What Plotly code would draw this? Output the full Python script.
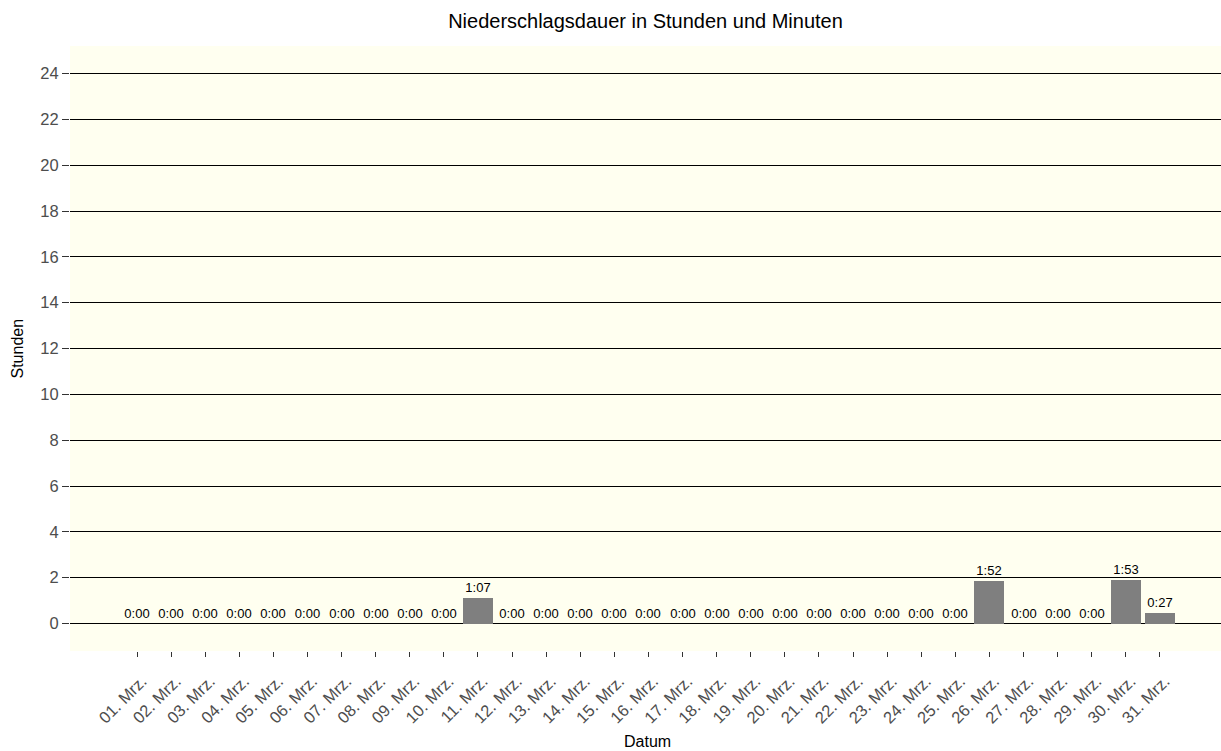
import plotly.graph_objects as go

days = list(range(1, 32))
day_labels = [f"{d:02d}. Mrz." for d in days]
minutes = [0, 0, 0, 0, 0, 0, 0, 0, 0, 0, 67, 0, 0, 0, 0, 0, 0, 0, 0, 0,
           0, 0, 0, 0, 0, 112, 0, 0, 0, 113, 27]
hours = [m / 60 for m in minutes]
labels = [f"{m // 60}:{m % 60:02d}" for m in minutes]
y_ticks = list(range(0, 25, 2))

FONT = "Liberation Sans, Arial, sans-serif"

fig = go.Figure()
fig.add_trace(go.Bar(
    x=days, y=hours, width=0.88,
    marker=dict(color="#7F7F7F", line=dict(width=0)),
    text=labels, textposition="outside", constraintext="none",
    textfont=dict(family=FONT, size=13, color="#000000"),
    cliponaxis=False, hoverinfo="skip",
))

fig.update_layout(
    width=1221, height=751,
    margin=dict(l=70, r=0, t=46, b=100),
    paper_bgcolor="white", plot_bgcolor="#FFFFF0",
    showlegend=False,
    font=dict(family=FONT),
    title=dict(text="Niederschlagsdauer in Stunden und Minuten", xref="paper", x=0.5,
               xanchor="center", y=1 - 21 / 751, yanchor="middle",
               font=dict(family=FONT, size=20, color="#000000")),
    bargap=0,
)
fig.update_xaxes(
    range=[-0.965, 32.79], tickmode="array", tickvals=days, ticktext=day_labels,
    tickangle=-45, ticks="outside", ticklen=5, tickcolor="#333333", tickwidth=1,
    ticklabelstandoff=8, ticklabelshift=5,
    tickfont=dict(family=FONT, size=16.5, color="#4D4D4D"),
    showgrid=False, zeroline=False, showline=False,
)
fig.update_yaxes(
    range=[-1.2, 25.2], tickmode="array", tickvals=y_ticks,
    ticks="outside", ticklen=7, tickcolor="#333333", tickwidth=1,
    tickfont=dict(family=FONT, size=16.5, color="#4D4D4D"),
    showgrid=True, gridcolor="#000000", gridwidth=1,
    zeroline=False, showline=False,
)
fig.add_annotation(text="Stunden", xref="paper", yref="paper", x=-(70 - 17) / 1151,
                   y=0.5, textangle=-90, showarrow=False, xanchor="center", yanchor="middle",
                   font=dict(family=FONT, size=16, color="#000000"))
fig.add_annotation(text="Datum", xref="paper", yref="paper", x=(647 - 70) / 1151,
                   y=-(741 - 651) / 605, showarrow=False, xanchor="center", yanchor="middle",
                   font=dict(family=FONT, size=16, color="#000000"))

fig.write_html("out.html", config={"displayModeBar": False},
               post_script="document.body.style.margin='0';document.body.style.padding='0';")
